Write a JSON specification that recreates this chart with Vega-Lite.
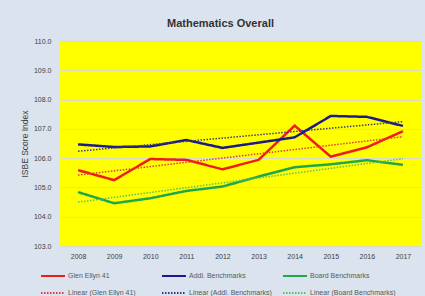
{
  "$schema": "https://vega.github.io/schema/vega-lite/v6.json",
  "width": 361,
  "height": 205,
  "autosize": {"type": "none"},
  "padding": {"left": 60, "top": 41, "right": 4, "bottom": 50},
  "background": "#dbe3ef",
  "title": {
    "text": "Mathematics Overall",
    "anchor": "middle",
    "frame": "group",
    "dx": -20,
    "offset": 8,
    "fontSize": 11,
    "fontWeight": "bold",
    "font": "Liberation Sans",
    "color": "#333333"
  },
  "config": {
    "view": {"fill": "#ffff00", "stroke": null},
    "font": "Liberation Sans",
    "legend": {
      "title": null,
      "orient": "none",
      "legendX": -20,
      "legendY": 222,
      "columns": 3,
      "gridAlign": "all",
      "columnPadding": 4,
      "rowPadding": -8,
      "symbolType": "stroke",
      "symbolSize": 576,
      "symbolStrokeWidth": 2,
      "labelOffset": 2,
      "labelFontSize": 7,
      "labelColor": "#595959",
      "labelLimit": 200
    }
  },
  "data": {
    "values": [
      {"year": 2008, "series": "Glen Ellyn  41", "trend": "Linear (Glen Ellyn  41)", "value": 105.59},
      {"year": 2009, "series": "Glen Ellyn  41", "trend": "Linear (Glen Ellyn  41)", "value": 105.25},
      {"year": 2010, "series": "Glen Ellyn  41", "trend": "Linear (Glen Ellyn  41)", "value": 105.97},
      {"year": 2011, "series": "Glen Ellyn  41", "trend": "Linear (Glen Ellyn  41)", "value": 105.94},
      {"year": 2012, "series": "Glen Ellyn  41", "trend": "Linear (Glen Ellyn  41)", "value": 105.62},
      {"year": 2013, "series": "Glen Ellyn  41", "trend": "Linear (Glen Ellyn  41)", "value": 105.94},
      {"year": 2014, "series": "Glen Ellyn  41", "trend": "Linear (Glen Ellyn  41)", "value": 107.11},
      {"year": 2015, "series": "Glen Ellyn  41", "trend": "Linear (Glen Ellyn  41)", "value": 106.05},
      {"year": 2016, "series": "Glen Ellyn  41", "trend": "Linear (Glen Ellyn  41)", "value": 106.37},
      {"year": 2017, "series": "Glen Ellyn  41", "trend": "Linear (Glen Ellyn  41)", "value": 106.92},
      {"year": 2008, "series": "Addl. Benchmarks", "trend": "Linear (Addl. Benchmarks)", "value": 106.47},
      {"year": 2009, "series": "Addl. Benchmarks", "trend": "Linear (Addl. Benchmarks)", "value": 106.38},
      {"year": 2010, "series": "Addl. Benchmarks", "trend": "Linear (Addl. Benchmarks)", "value": 106.40},
      {"year": 2011, "series": "Addl. Benchmarks", "trend": "Linear (Addl. Benchmarks)", "value": 106.62},
      {"year": 2012, "series": "Addl. Benchmarks", "trend": "Linear (Addl. Benchmarks)", "value": 106.35},
      {"year": 2013, "series": "Addl. Benchmarks", "trend": "Linear (Addl. Benchmarks)", "value": 106.53},
      {"year": 2014, "series": "Addl. Benchmarks", "trend": "Linear (Addl. Benchmarks)", "value": 106.71},
      {"year": 2015, "series": "Addl. Benchmarks", "trend": "Linear (Addl. Benchmarks)", "value": 107.44},
      {"year": 2016, "series": "Addl. Benchmarks", "trend": "Linear (Addl. Benchmarks)", "value": 107.41},
      {"year": 2017, "series": "Addl. Benchmarks", "trend": "Linear (Addl. Benchmarks)", "value": 107.10},
      {"year": 2008, "series": "Board Benchmarks", "trend": "Linear (Board Benchmarks)", "value": 104.84},
      {"year": 2009, "series": "Board Benchmarks", "trend": "Linear (Board Benchmarks)", "value": 104.46},
      {"year": 2010, "series": "Board Benchmarks", "trend": "Linear (Board Benchmarks)", "value": 104.63},
      {"year": 2011, "series": "Board Benchmarks", "trend": "Linear (Board Benchmarks)", "value": 104.88},
      {"year": 2012, "series": "Board Benchmarks", "trend": "Linear (Board Benchmarks)", "value": 105.03},
      {"year": 2013, "series": "Board Benchmarks", "trend": "Linear (Board Benchmarks)", "value": 105.37},
      {"year": 2014, "series": "Board Benchmarks", "trend": "Linear (Board Benchmarks)", "value": 105.69},
      {"year": 2015, "series": "Board Benchmarks", "trend": "Linear (Board Benchmarks)", "value": 105.79},
      {"year": 2016, "series": "Board Benchmarks", "trend": "Linear (Board Benchmarks)", "value": 105.93},
      {"year": 2017, "series": "Board Benchmarks", "trend": "Linear (Board Benchmarks)", "value": 105.77}
    ]
  },
  "encoding": {
    "x": {
      "field": "year",
      "type": "quantitative",
      "scale": {"domain": [2007.5, 2017.5], "nice": false, "zero": false},
      "axis": {
        "title": null,
        "values": [2008, 2009, 2010, 2011, 2012, 2013, 2014, 2015, 2016, 2017],
        "format": "d",
        "grid": false,
        "ticks": false,
        "domain": false,
        "labelPadding": 6,
        "labelFontSize": 7,
        "labelColor": "#404040"
      }
    },
    "y": {
      "field": "value",
      "type": "quantitative",
      "scale": {"domain": [103, 110], "nice": false, "zero": false},
      "axis": {
        "title": "ISBE Score Index",
        "values": [103, 104, 105, 106, 107, 108, 109, 110],
        "format": ".1f",
        "grid": true,
        "gridColor": "#d9d9c8",
        "gridWidth": 1,
        "ticks": false,
        "domain": false,
        "labelPadding": 9,
        "labelFontSize": 7,
        "labelColor": "#404040",
        "titleFontSize": 8.5,
        "titleFontWeight": "normal",
        "titleColor": "#404040",
        "titlePadding": 4
      }
    }
  },
  "layer": [
    {
      "mark": {"type": "line", "strokeWidth": 2.5},
      "encoding": {
        "color": {
          "field": "series",
          "type": "nominal",
          "scale": {
            "domain": ["Glen Ellyn  41", "Linear (Glen Ellyn  41)", "Addl. Benchmarks", "Linear (Addl. Benchmarks)", "Board Benchmarks", "Linear (Board Benchmarks)"],
            "range": ["#ee1c1c", "#e23b3b", "#1a1a8c", "#3a3a7a", "#1ea84a", "#5cc05c"]
          }
        },
        "strokeDash": {
          "field": "series",
          "type": "nominal",
          "scale": {
            "domain": ["Glen Ellyn  41", "Linear (Glen Ellyn  41)", "Addl. Benchmarks", "Linear (Addl. Benchmarks)", "Board Benchmarks", "Linear (Board Benchmarks)"],
            "range": [[1, 0], [1.5, 1.5], [1, 0], [1.5, 1.5], [1, 0], [1.5, 1.5]]
          }
        }
      }
    },
    {
      "transform": [
        {"regression": "value", "on": "year", "groupby": ["trend"], "method": "linear", "extent": [2008, 2017]}
      ],
      "mark": {"type": "line", "strokeWidth": 1.5},
      "encoding": {
        "color": {"field": "trend", "type": "nominal"},
        "strokeDash": {"field": "trend", "type": "nominal"}
      }
    }
  ]
}
